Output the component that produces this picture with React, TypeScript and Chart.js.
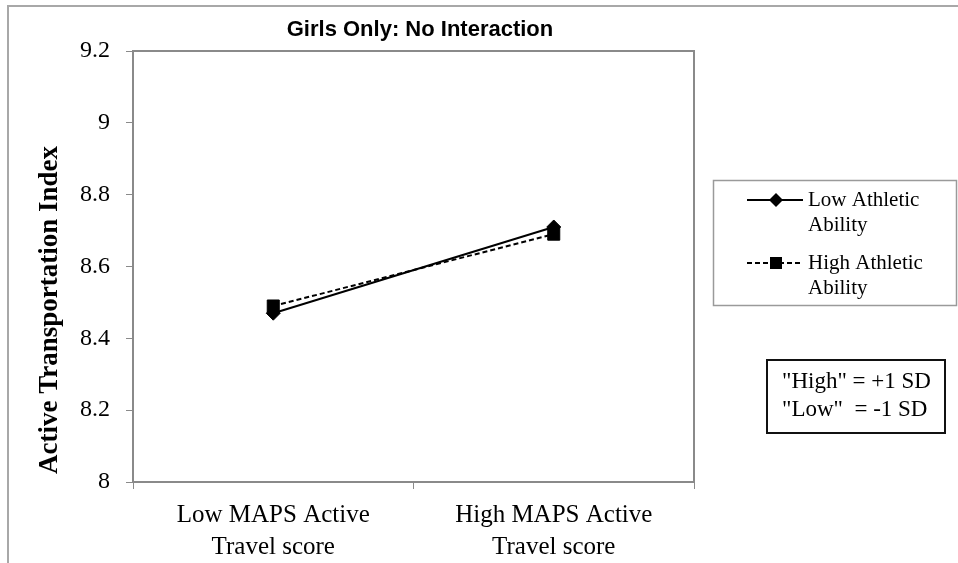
import React, { useEffect, useRef } from 'react';
import { Chart, registerables } from 'chart.js';

Chart.register(...registerables);

// ---- data ----
const categories: string[][] = [
  ['Low MAPS Active', 'Travel score'],
  ['High MAPS Active', 'Travel score'],
];
const lowAthletic: number[] = [8.47, 8.71];
const highAthletic: number[] = [8.49, 8.69];
const seriesLegend: string[][] = [
  ['Low Athletic', 'Ability'],
  ['High Athletic', 'Ability'],
];
const titleText = 'Girls Only: No Interaction';
const yTitleText = 'Active Transportation Index';
const noteLines: string[] = ['"High" = +1 SD', '"Low"  = -1 SD'];
const yMin = 8;
const yMax = 9.2;
const yStep = 0.2;

const SERIF = '"Liberation Serif", "Times New Roman", serif';
const AXIS_GRAY = '#8a8a8a';

const decorPlugin = {
  id: 'decor',
  beforeDraw(chart: any) {
    const ctx = chart.ctx;
    ctx.save();
    ctx.fillStyle = '#ffffff';
    ctx.fillRect(0, 0, chart.width, chart.height);
    ctx.restore();
  },
  afterDraw(chart: any) {
    const ctx = chart.ctx as CanvasRenderingContext2D;
    const a = chart.chartArea;
    ctx.save();

    // outer frame (left and top only)
    ctx.strokeStyle = '#a8a8a8';
    ctx.lineWidth = 2;
    ctx.beginPath();
    ctx.moveTo(8, chart.height);
    ctx.lineTo(8, 6);
    ctx.lineTo(chart.width, 6);
    ctx.stroke();

    // plot area top & right border
    ctx.strokeStyle = AXIS_GRAY;
    ctx.lineWidth = 2;
    ctx.beginPath();
    ctx.moveTo(a.left - 1, a.top);
    ctx.lineTo(a.right, a.top);
    ctx.lineTo(a.right, a.bottom + 1);
    ctx.stroke();

    // title
    ctx.fillStyle = '#000';
    ctx.font = 'bold 22px "Liberation Sans Narrow", "Liberation Sans", Arial, sans-serif';
    ctx.textAlign = 'center';
    ctx.textBaseline = 'middle';
    ctx.fillText(titleText, 420, 30);

    // y-axis title
    ctx.save();
    ctx.translate(50, 310);
    ctx.rotate(-Math.PI / 2);
    ctx.font = 'bold 27px ' + SERIF;
    ctx.textAlign = 'center';
    ctx.textBaseline = 'middle';
    ctx.fillText(yTitleText, 0, 0);
    ctx.restore();

    // legend box
    ctx.strokeStyle = '#9a9a9a';
    ctx.lineWidth = 1.5;
    ctx.strokeRect(713.5, 180.5, 243, 125);
    const rows = [200, 263];
    chart.data.datasets.forEach((ds: any, i: number) => {
      const y = rows[i];
      ctx.strokeStyle = '#000';
      ctx.lineWidth = 2;
      ctx.setLineDash(ds.borderDash || []);
      ctx.beginPath();
      ctx.moveTo(747, y);
      ctx.lineTo(803, y);
      ctx.stroke();
      ctx.setLineDash([]);
      ctx.fillStyle = '#000';
      const cx = 776;
      if (ds.pointStyle === 'rectRot') {
        const r = 7;
        ctx.beginPath();
        ctx.moveTo(cx, y - r);
        ctx.lineTo(cx + r, y);
        ctx.lineTo(cx, y + r);
        ctx.lineTo(cx - r, y);
        ctx.closePath();
        ctx.fill();
      } else {
        ctx.fillRect(cx - 6, y - 6, 12, 12);
      }
      ctx.font = '21px ' + SERIF;
      ctx.textAlign = 'left';
      ctx.textBaseline = 'middle';
      seriesLegend[i].forEach((t, j) => ctx.fillText(t, 808, y + j * 25));
    });

    // note box
    ctx.strokeStyle = '#111';
    ctx.lineWidth = 2;
    ctx.strokeRect(767, 360, 178, 73);
    ctx.fillStyle = '#000';
    ctx.font = '23px ' + SERIF;
    ctx.textAlign = 'left';
    ctx.textBaseline = 'middle';
    noteLines.forEach((t, j) => ctx.fillText(t, 782, 382 + j * 28));

    ctx.restore();
  },
};

export default function App() {
  const canvasRef = useRef<HTMLCanvasElement | null>(null);

  useEffect(() => {
    const canvas = canvasRef.current;
    if (!canvas) return;
    const chart = new Chart(canvas, {
      type: 'line',
      data: {
        labels: categories as any,
        datasets: [
          {
            label: seriesLegend[0].join(' '),
            data: lowAthletic,
            borderColor: '#000',
            backgroundColor: '#000',
            borderWidth: 2,
            pointStyle: 'rectRot',
            pointRadius: 7,
            pointBorderWidth: 1,
            pointBackgroundColor: '#000',
            pointBorderColor: '#000',
            tension: 0,
            order: 1,
          },
          {
            label: seriesLegend[1].join(' '),
            data: highAthletic,
            borderColor: '#000',
            backgroundColor: '#000',
            borderWidth: 2,
            borderDash: [5, 3],
            pointStyle: 'rect',
            pointRadius: 8.5,
            pointBorderWidth: 1,
            pointBackgroundColor: '#000',
            pointBorderColor: '#000',
            tension: 0,
            order: 0,
          },
        ],
      },
      options: {
        responsive: false,
        animation: false,
        devicePixelRatio: 1,
        layout: { padding: { left: 73, top: 51, right: 264, bottom: 0 } },
        plugins: {
          legend: { display: false },
          tooltip: { enabled: false },
          title: { display: false },
        },
        scales: {
          x: {
            type: 'category',
            offset: true,
            afterFit: (s: any) => {
              s.height = 81;
            },
            grid: {
              offset: true,
              drawOnChartArea: false,
              drawTicks: true,
              tickLength: 7,
              color: AXIS_GRAY,
              lineWidth: 1,
            },
            border: { display: true, color: AXIS_GRAY, width: 2 },
            ticks: {
              color: '#000',
              font: { family: SERIF, size: 25, lineHeight: 1.28 },
              padding: 10,
              maxRotation: 0,
              autoSkip: false,
            },
          },
          y: {
            min: yMin,
            max: yMax,
            afterFit: (s: any) => {
              s.width = 60;
            },
            grid: {
              drawOnChartArea: false,
              drawTicks: true,
              tickLength: 7,
              color: AXIS_GRAY,
              lineWidth: 1,
            },
            border: { display: true, color: AXIS_GRAY, width: 2 },
            ticks: {
              stepSize: yStep,
              color: '#000',
              font: { family: SERIF, size: 24 },
              padding: 16,
              callback: (v: any) => String(Number(Number(v).toFixed(1))),
            },
          },
        },
      },
      plugins: [decorPlugin],
    } as any);
    return () => chart.destroy();
  }, []);

  return (
    <div
      style={{
        position: 'fixed',
        left: 0,
        top: 0,
        width: 958,
        height: 563,
        background: '#fff',
      }}
    >
      <canvas ref={canvasRef} width={958} height={563} style={{ display: 'block' }} />
    </div>
  );
}
